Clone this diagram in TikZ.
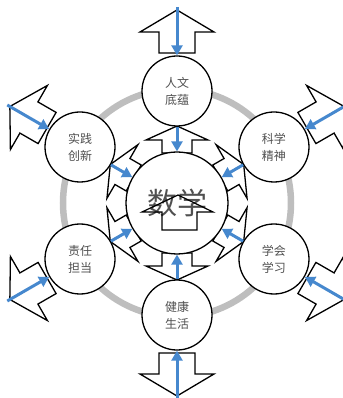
\documentclass[tikz,border=0pt]{standalone}
\usepackage{fontspec}
\newfontfamily\cjk{Noto Sans CJK SC}
\usetikzlibrary{arrows.meta}
\definecolor{ringgray}{RGB}{190,190,190}
\definecolor{arrowblue}{RGB}{70,136,206}
\definecolor{textgray}{RGB}{80,80,80}
\begin{document}
\begin{tikzpicture}[x=1pt,y=1pt,
	core/.style={circle,draw,line width=1.3pt,fill=white,minimum size=70pt,inner sep=0pt,align=center,text=textgray,font=\cjk\fontsize{12}{17}\selectfont},
	math/.style={circle,draw,line width=1.3pt,fill=white,minimum size=102pt,inner sep=0pt,text=textgray,font=\cjk\fontsize{30}{30}\selectfont},
	block/.style={draw,line width=1.3pt,fill=white,line join=miter},
	bluearrow/.style={draw=arrowblue,line width=3pt,-{Triangle[length=10pt,width=11pt]}}]
\useasboundingbox (-177,-195) rectangle (165,203);
\draw[ringgray,line width=6.5pt] (0,0) circle (114);
% arrows from the centre
\foreach \a in {90,30,-30,-90,-150,150}{
	\draw[block,rotate=\a] (50,-15) -- (63,-15) -- (63,-31) -- (77,0) -- (63,31) -- (63,15) -- (50,15) -- cycle;}
\node[math] (math) at (0,0) {数学};
\node[core] (rw) at (90:112) {人文\\底蕴};
\node[core] (kx) at (30:112) {科学\\精神};
\node[core] (xh) at (-30:112) {学会\\学习};
\node[core] (jk) at (-90:112) {健康\\生活};
\node[core] (zr) at (-150:112) {责任\\担当};
\node[core] (sj) at (150:112) {实践\\创新};
\draw[line width=1.2pt] (-15,-27) -- (-15,-9) -- (-35,-9) -- (1,8) -- (36,-9) -- (20,-9) -- (20,-27) -- cycle;
% arrows to the outside
\foreach \a in {90,30,-30,-90,-150,150}{
	\draw[block,rotate=\a] (150,-18) -- (171,-18) -- (171,-37) -- (193,0) -- (171,37) -- (171,18) -- (150,18) -- cycle;}
\coordinate (rwo) at (90:196);
\coordinate (kxo) at (30:196);
\coordinate (xho) at (-30:196);
\coordinate (jko) at (-90:196);
\coordinate (zro) at (-150:196);
\coordinate (sjo) at (150:196);
\foreach \n in {rw,kx,xh,jk,zr,sj}{
	\draw[bluearrow] (\n o) -- (\n);
	\draw[bluearrow] (\n) -- (math);}
\end{tikzpicture}
\end{document}
